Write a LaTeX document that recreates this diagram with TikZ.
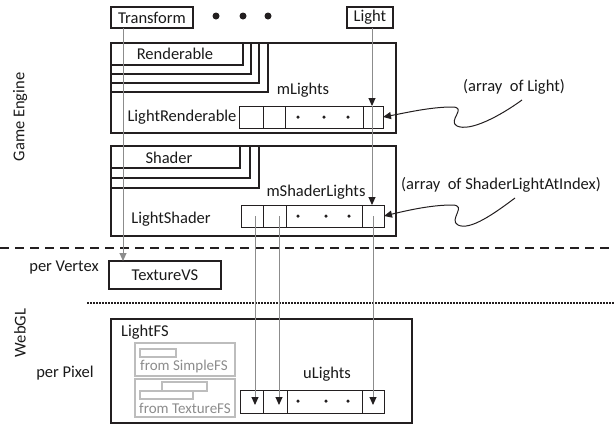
\documentclass[tikz,border=0pt]{standalone}
\usepackage{fontspec}
\setmainfont{Carlito}
\usetikzlibrary{arrows.meta}
\definecolor{ink}{HTML}{231F20}
\definecolor{txt}{HTML}{1A1A1A}
\definecolor{mgray}{HTML}{8C8C8C}
\definecolor{lgray}{HTML}{BDBDBD}
\tikzset{
  box/.style={draw=ink, line width=2pt, inner sep=0pt, outer sep=0pt, anchor=north west},
  cellbox/.style={draw=ink, line width=1pt, inner sep=0pt, outer sep=0pt, anchor=north west, minimum height=22pt},
  gbox/.style={draw=lgray, line width=1.3pt, inner sep=0pt, outer sep=0pt, anchor=north west},
  lbl/.style={text=txt, font=\fontsize{16.5}{19}\selectfont, inner sep=0pt},
  glbl/.style={text=mgray, font=\fontsize{15}{17}\selectfont, inner sep=0pt},
  glink/.style={draw=mgray, line width=1pt},
  tip/.style={-{Triangle[width=7pt,length=8pt,color=ink]}},
  gtip/.style={-{Triangle[width=7pt,length=8pt,color=mgray]}},
  bigdot/.style={circle, fill=ink, inner sep=0pt, minimum size=7pt},
  smalldot/.style={circle, fill=ink, inner sep=0pt, minimum size=3.5pt},
}
\begin{document}
\begin{tikzpicture}[x=1pt,y=-1pt]
\useasboundingbox (0,0) rectangle (614,426);
% top row
\node[box, minimum width=82pt, minimum height=21pt] (transform) at (111,7) {};
\node[lbl] (transformt) at (152,17.5) {Transform};
\node[box, minimum width=46pt, minimum height=21pt] (light) at (347,7) {};
\node[lbl] (lightt) at (370,17.5) {Light};
\node[bigdot] (d1) at (216,16) {};
\node[bigdot] (d2) at (243,16) {};
\node[bigdot] (d3) at (268,16) {};
% LightRenderable
\node[box, minimum width=285pt, minimum height=90pt] (lr) at (111,43) {};
\node[box, minimum width=157pt, minimum height=49pt] (r4) at (111,43) {};
\node[box, minimum width=148pt, minimum height=40pt] (r3) at (111,43) {};
\node[box, minimum width=140pt, minimum height=31pt] (r2) at (111,43) {};
\node[box, minimum width=132pt, minimum height=22pt] (r1) at (111,43) {};
\node[lbl] (rt) at (175,54) {Renderable};
\node[lbl] (mlt) at (303,90) {mLights};
\node[lbl] (lrt) at (182,117) {LightRenderable};
\node[cellbox, minimum width=24pt] (lc1) at (239,106) {};
\node[cellbox, minimum width=22pt] (lc2) at (263,106) {};
\node[cellbox, minimum width=78pt] (lc3) at (285,106) {};
\node[cellbox, minimum width=20pt] (lc4) at (363,106) {};
\node[smalldot] (ld1) at (298,117) {};
\node[smalldot] (ld2) at (324,117) {};
\node[smalldot] (ld3) at (348,117) {};
% LightShader
\node[box, minimum width=285pt, minimum height=90pt] (ls) at (111,146) {};
\node[box, minimum width=148pt, minimum height=42pt] (s3) at (111,146) {};
\node[box, minimum width=139pt, minimum height=32pt] (s2) at (111,146) {};
\node[box, minimum width=129pt, minimum height=22pt] (s1) at (111,146) {};
\node[lbl] (st) at (169,158) {Shader};
\node[lbl] (mslt) at (316,192) {mShaderLights};
\node[lbl] (lst) at (171,219) {LightShader};
\node[cellbox, minimum width=22pt] (sc1) at (241,205) {};
\node[cellbox, minimum width=23pt] (sc2) at (263,205) {};
\node[cellbox, minimum width=76pt] (sc3) at (286,205) {};
\node[cellbox, minimum width=22pt] (sc4) at (362,205) {};
\node[smalldot] (sd1) at (298,216) {};
\node[smalldot] (sd2) at (326,216) {};
\node[smalldot] (sd3) at (349,216) {};
% separators
\coordinate (dashL) at (0,248);
\coordinate (dashR) at (614,248);
\draw[ink, line width=2pt, dash pattern=on 9pt off 6pt] (dashL) -- (dashR);
\coordinate (dotL) at (87,303);
\coordinate (dotR) at (614,303);
\draw[ink, line width=1.5pt, dash pattern=on 1.5pt off 1.5pt] (dotL) -- (dotR);
% TextureVS
\node[box, minimum width=112pt, minimum height=28pt] (tvs) at (109,261) {};
\node[lbl] (tvst) at (165,275) {TextureVS};
% LightFS
\node[box, minimum width=301pt, minimum height=104pt] (lfs) at (111,319) {};
\node[lbl, anchor=west] (lfst) at (121,332) {LightFS};
\node[gbox, minimum width=100pt, minimum height=33pt] (sfs) at (135,343) {};
\node[gbox, minimum width=36pt, minimum height=8pt] (sfsr) at (140,349) {};
\node[glbl] (sfst) at (184,366) {from SimpleFS};
\node[gbox, minimum width=100pt, minimum height=38pt] (tfs) at (135,379) {};
\node[gbox, minimum width=45pt, minimum height=9pt] (tfsr1) at (162,382) {};
\node[gbox, minimum width=53pt, minimum height=8pt] (tfsr2) at (140,391) {};
\node[glbl] (tfst) at (185,408) {from TextureFS};
\node[lbl] (ult) at (327,374) {uLights};
\node[cellbox, minimum width=23pt, minimum height=23pt] (uc1) at (240,390) {};
\node[cellbox, minimum width=24pt, minimum height=23pt] (uc2) at (263,390) {};
\node[cellbox, minimum width=75pt, minimum height=23pt] (uc3) at (287,390) {};
\node[cellbox, minimum width=22pt, minimum height=23pt] (uc4) at (362,390) {};
\node[smalldot] (ud1) at (298,401) {};
\node[smalldot] (ud2) at (326,401) {};
\node[smalldot] (ud3) at (348,401) {};
% left labels
\node[lbl, rotate=90] (ge) at (20,117) {Game Engine};
\node[lbl] (pv) at (64,268) {per Vertex};
\node[lbl, rotate=90] (wgl) at (20,333) {WebGL};
\node[lbl] (pp) at (65,373) {per Pixel};
% connectors
\coordinate (trS) at (123,28);
\coordinate (trE) at (123,261);
\draw[glink, gtip] (trS) -- (trE);
\coordinate (liS) at (372,28);
\coordinate (liA) at (372,106);
\coordinate (liB) at (372,205);
\draw[glink, tip] (liS) -- (liA);
\draw[glink, tip] (liA) -- (liB);
\coordinate (a1s) at (255,216);
\coordinate (a1e) at (255,405);
\coordinate (a2s) at (279,216);
\coordinate (a2e) at (279,405);
\coordinate (a3s) at (373,216);
\coordinate (a3e) at (373,405);
\draw[glink, tip] (a1s) -- (a1e);
\draw[glink, tip] (a2s) -- (a2e);
\draw[glink, tip] (a3s) -- (a3e);
% annotations
\node[lbl] (ann1) at (514,87) {(array~ of Light)};
\node[lbl] (ann2) at (501,185) {(array~ of ShaderLightAtIndex)};
\coordinate (c1s) at (522,100);
\draw[ink, line width=1pt, tip] (c1s) .. controls (500,116) and (470,132) .. (457,126)
  .. controls (447,121) and (468,107) .. (452,107)
  .. controls (430,107) and (405,113) .. (lc4.east);
\coordinate (c2s) at (515,198);
\draw[ink, line width=1pt, tip] (c2s) .. controls (495,213) and (470,231) .. (458,225)
  .. controls (448,220) and (468,205) .. (452,205)
  .. controls (430,205) and (405,211) .. (sc4.east);
\end{tikzpicture}
\end{document}
